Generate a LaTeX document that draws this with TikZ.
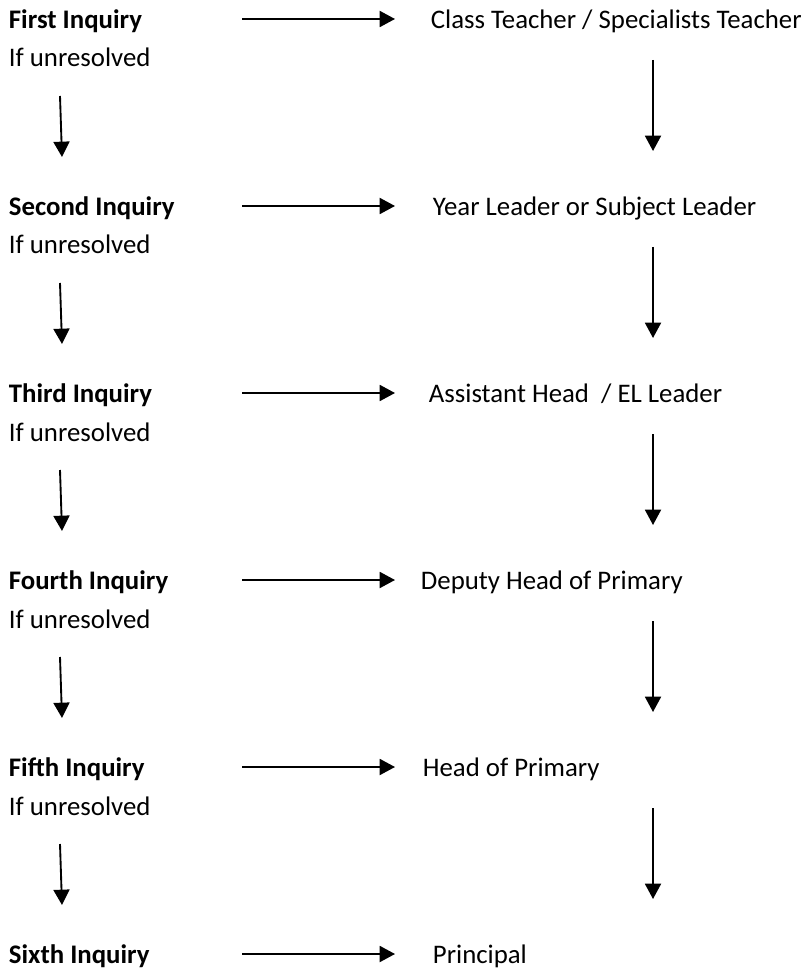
\documentclass[tikz,border=0pt]{standalone}
\usepackage{fontspec}
\setmainfont{Carlito}
\usetikzlibrary{arrows.meta}

\begin{document}
\begin{tikzpicture}[->,>={Triangle[length=11.5pt,width=12pt]},line width=1.4pt,x=0.75pt,y=-0.75pt,
    every node/.style={inner sep=0pt,anchor=base west,font=\fontsize{20.1}{24}\selectfont},
    inquiry node/.style={font=\fontsize{20.1}{24}\selectfont\bfseries}]
            \useasboundingbox (0,0) rectangle (804,969);

            \node[inquiry node] (i1) at (8,28.5) {First Inquiry};
            \node[] (u1) at (8,67) {If unresolved};
            \node[] (p1) at (430,28.5) {Class Teacher / Specialists Teacher};

            \node[inquiry node] (i2) at (8,215.5) {Second Inquiry};
            \node[] (u2) at (8,254) {If unresolved};
            \node[] (p2) at (432,215.5) {Year Leader or Subject Leader};

            \node[inquiry node] (i3) at (8,402.5) {Third Inquiry};
            \node[] (u3) at (8,441) {If unresolved};
            \node[] (p3) at (428,402.5) {Assistant Head~ / EL Leader};

            \node[inquiry node] (i4) at (8,589.5) {Fourth Inquiry};
            \node[] (u4) at (8,628) {If unresolved};
            \node[] (p4) at (420,589.5) {Deputy Head of Primary};

            \node[inquiry node] (i5) at (8,776.5) {Fifth Inquiry};
            \node[] (u5) at (8,815) {If unresolved};
            \node[] (p5) at (422,776.5) {Head of Primary};

            \node[inquiry node] (i6) at (8,963.5) {Sixth Inquiry};
            \node[] (p6) at (432,963.5) {Principal};

            % arrow ends
            \coordinate (hs1) at (242,19);  \coordinate (he1) at (395,19);
            \coordinate (hs2) at (242,206); \coordinate (he2) at (395,206);
            \coordinate (hs3) at (242,393); \coordinate (he3) at (395,393);
            \coordinate (hs4) at (242,580); \coordinate (he4) at (395,580);
            \coordinate (hs5) at (242,767); \coordinate (he5) at (395,767);
            \coordinate (hs6) at (242,954); \coordinate (he6) at (395,954);

            \coordinate (ls1) at (60,96);  \coordinate (le1) at (62,157);
            \coordinate (ls2) at (60,283); \coordinate (le2) at (62,344);
            \coordinate (ls3) at (60,470); \coordinate (le3) at (62,531);
            \coordinate (ls4) at (60,657); \coordinate (le4) at (62,718);
            \coordinate (ls5) at (60,844); \coordinate (le5) at (62,905);

            \coordinate (rs1) at (653,60);  \coordinate (re1) at (653,151);
            \coordinate (rs2) at (653,247); \coordinate (re2) at (653,338);
            \coordinate (rs3) at (653,434); \coordinate (re3) at (653,525);
            \coordinate (rs4) at (653,621); \coordinate (re4) at (653,712);
            \coordinate (rs5) at (653,808); \coordinate (re5) at (653,899);

            \path
                (hs1) edge (he1)
                (hs2) edge (he2)
                (hs3) edge (he3)
                (hs4) edge (he4)
                (hs5) edge (he5)
                (hs6) edge (he6)
                (ls1) edge (le1)
                (ls2) edge (le2)
                (ls3) edge (le3)
                (ls4) edge (le4)
                (ls5) edge (le5)
                (rs1) edge (re1)
                (rs2) edge (re2)
                (rs3) edge (re3)
                (rs4) edge (re4)
                (rs5) edge (re5)
                ;
        \end{tikzpicture}
\end{document}
